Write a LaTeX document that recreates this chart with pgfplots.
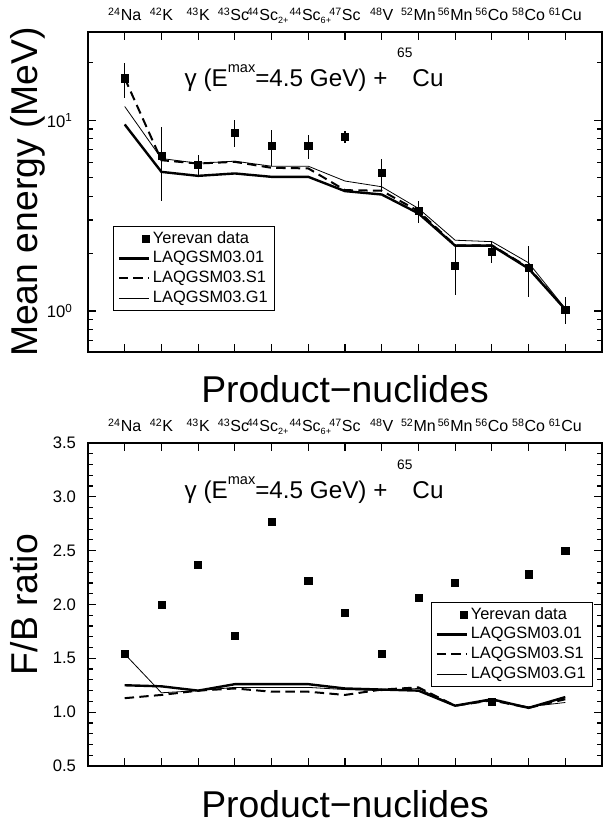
\documentclass[border=0pt]{standalone}
\usepackage{fontspec}
\setmainfont{Liberation Sans}
\usepackage{pgfplots}
\pgfplotsset{compat=1.18}
\newcommand{\nuc}[2]{\textsuperscript{#1}#2}
\newcommand{\sub}[1]{\raisebox{-2.2pt}{\fontsize{6.8}{8}\selectfont #1}}
\pgfplotsset{
  common/.style={
    scale only axis, width=385.5pt,
    xmin=-1, xmax=13,
    xtick={0,...,12},
    xticklabels={\nuc{24}{Na},\nuc{42}{K},\nuc{43}{K},\hspace*{-2pt}\nuc{43}{Sc},\hspace*{-6pt}\nuc{44}{Sc\sub{2+}},\hspace*{3pt}\nuc{44}{Sc\sub{6+}},\nuc{47}{Sc},\nuc{48}{V},\nuc{52}{Mn},\nuc{56}{Mn},\nuc{56}{Co},\nuc{58}{Co},\nuc{61}{Cu}},
    xticklabel pos=upper,
    xticklabel style={anchor=base, yshift=8.25pt, font=\fontsize{12}{14}\selectfont},
    yticklabel style={font=\fontsize{12.5}{14}\selectfont},
    tick align=inside,
    major tick length=6pt, minor tick length=3.5pt,
    every tick/.style={black, line width=0.9pt},
    axis line style={line width=1.1pt},
    xlabel={Product−nuclides},
    xlabel style={at={(axis description cs:0.5,-0.159)}, anchor=base, font=\fontsize{28}{32}\selectfont},
    ylabel style={at={(axis description cs:-0.0992,0.5)}, anchor=base, font=\fontsize{28}{32}\selectfont},
    legend cell align=left,
    legend style={draw=black, line width=0.6pt, fill=white, font=\fontsize{12.3}{14}\selectfont,
      nodes={inner ysep=1.6pt, text height=9pt, text depth=2.6pt}, inner xsep=3pt, inner ysep=2pt},
    legend image code/.code={\draw[##1] (0cm,0cm) -- (0.8cm,0cm);},
  },
  dataleg/.style={legend image code/.code={\draw[##1] plot coordinates {(0.72cm,0cm)};}},
  sdata/.style={black, only marks, mark=square*, mark size=2.7pt},
  s01/.style={black, line width=1.8pt, mark=none},
  sS1/.style={black, line width=1.5pt, dash pattern=on 7pt off 4pt, mark=none},
  sG1/.style={black, line width=0.6pt, mark=none},
}
\newcommand{\reaction}{γ (E\raisebox{10.8pt}{\fontsize{10.9}{12}\selectfont max}=4.5 GeV) +\hspace{0.4em}\raisebox{22pt}{\fontsize{10.3}{12}\selectfont 65}Cu}
\begin{document}
\begin{tikzpicture}
\path[use as bounding box] (0,0) rectangle (453.75pt,618pt);
% ---------------- top panel ----------------
\begin{axis}[common, at={(66pt,354pt)}, anchor=south west, height=240pt,
  ymode=log, ymin=0.61, ymax=29,
  ytick={1,10}, yticklabels={10\textsuperscript{0},10\textsuperscript{1}},
  minor ytick={0.7,0.8,0.9,2,3,4,5,6,7,8,9,20},
  yticklabel style={xshift=-8pt},
  ylabel={Mean energy (MeV)},
  legend style={at={(axis description cs:0.049,0.128)}, anchor=south west},
]
\addlegendimage{sdata, dataleg}
\addlegendentry{Yerevan data}
\addlegendimage{s01}\addlegendentry{LAQGSM03.01}
\addlegendimage{sS1}\addlegendentry{LAQGSM03.S1}
\addlegendimage{sG1}\addlegendentry{LAQGSM03.G1}
\addplot[s01, forget plot] coordinates {(0,9.5)(1,5.36)(2,5.11)(3,5.26)(4,5.05)(5,5.05)(6,4.25)(7,4.08)(8,3.25)(9,2.2)(10,2.2)(11,1.67)(12,1.02)};
\addplot[sS1, forget plot] coordinates {(0,16.6)(1,6.17)(2,5.93)(3,6.05)(4,5.63)(5,5.59)(6,4.3)(7,4.27)(8,3.34)(9,2.21)(10,2.21)(11,1.69)(12,1.02)};
\addplot[sG1, forget plot] coordinates {(0,11.8)(1,6.3)(2,5.95)(3,6.1)(4,5.74)(5,5.74)(6,4.8)(7,4.48)(8,3.45)(9,2.35)(10,2.31)(11,1.79)(12,1.03)};
\addplot[sdata, forget plot, error bars/.cd, y dir=both, y explicit, error mark=none, error bar style={line width=0.8pt, black}] coordinates {
 (0,16.6) +- (0,3.45)
 (1,6.5) +- (0,2.71)
 (2,5.86) +- (0,0.75)
 (3,8.62) +- (0,1.38)
 (4,7.34) +- (0,1.58)
 (5,7.32) +- (0,1.05)
 (6,8.18) +- (0,0.6)
 (7,5.3) +- (0,1.0)
 (8,3.34) +- (0,0.45)
 (9,1.73) +- (0,0.52)
 (10,2.04) +- (0,0.25)
 (11,1.69) +- (0,0.5)
 (12,1.02) +- (0,0.17)
};
\node[anchor=base west, font=\fontsize{18.2}{21}\selectfont] at (axis description cs:0.179,0.829) {\reaction};
\end{axis}
% ---------------- bottom panel ----------------
\begin{axis}[common, at={(66pt,43.5pt)}, anchor=south west, height=242.25pt,
  ymin=0.5, ymax=3.5,
  ytick={0.5,1.0,1.5,2.0,2.5,3.0,3.5},
  yticklabels={0.5,1.0,1.5,2.0,2.5,3.0,3.5},
  minor y tick num=4,
  yticklabel style={xshift=-5.5pt},
  ylabel={F/B ratio},
  legend style={at={(axis description cs:0.982,0.508)}, anchor=north east},
]
\addlegendimage{sdata, dataleg}
\addlegendentry{Yerevan data}
\addlegendimage{s01}\addlegendentry{LAQGSM03.01}
\addlegendimage{sS1}\addlegendentry{LAQGSM03.S1}
\addlegendimage{sG1}\addlegendentry{LAQGSM03.G1}
\addplot[s01, forget plot] coordinates {(0,1.25)(1,1.24)(2,1.2)(3,1.26)(4,1.26)(5,1.26)(6,1.22)(7,1.21)(8,1.2)(9,1.06)(10,1.12)(11,1.04)(12,1.14)};
\addplot[sS1, forget plot] coordinates {(0,1.13)(1,1.16)(2,1.2)(3,1.22)(4,1.19)(5,1.19)(6,1.16)(7,1.21)(8,1.23)(9,1.06)(10,1.11)(11,1.04)(12,1.12)};
\addplot[sG1, forget plot] coordinates {(0,1.54)(1,1.18)(2,1.2)(3,1.23)(4,1.23)(5,1.23)(6,1.21)(7,1.2)(8,1.22)(9,1.06)(10,1.11)(11,1.05)(12,1.09)};
\addplot[sdata, forget plot] coordinates {(0,1.54)(1,2.0)(2,2.37)(3,1.71)(4,2.77)(5,2.22)(6,1.92)(7,1.54)(8,2.06)(9,2.2)(10,1.10)(11,2.28)(12,2.5)};
\node[anchor=base west, font=\fontsize{18.2}{21}\selectfont] at (axis description cs:0.179,0.827) {\reaction};
\end{axis}
\end{tikzpicture}
\end{document}
